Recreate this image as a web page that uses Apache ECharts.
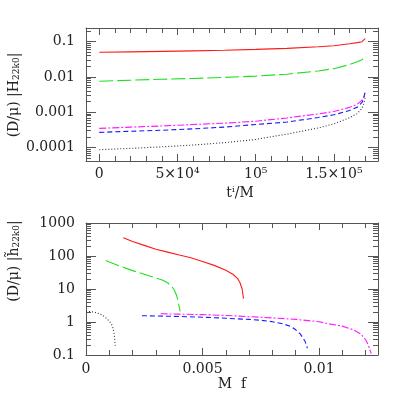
<!DOCTYPE html>
<html><head><meta charset="utf-8">
<script src="https://cdn.jsdelivr.net/npm/echarts@6/dist/echarts.min.js"></script>
<style>html,body{margin:0;padding:0;background:#fff}#c{width:399px;height:399px}</style>
</head><body><div id="c"></div>
<script>
// ---------- top panel data (t^i/M vs amplitude) ----------
const tTop = [0, 20000, 40000, 60000, 80000, 100000, 120000, 140000, 150000, 160000, 165000, 168000, 169000, 170000];
const topRed     = [0.050, 0.0515, 0.053, 0.055, 0.0573, 0.0605, 0.0645, 0.072, 0.077, 0.087, 0.094, 0.100, 0.106, 0.122];
const topGreen   = [0.0076, 0.0081, 0.0086, 0.0091, 0.0097, 0.0106, 0.0120, 0.0148, 0.0172, 0.0225, 0.027, 0.031, 0.034, 0.041];
const topMagenta = [0.00035, 0.00038, 0.00041, 0.00045, 0.00049, 0.00056, 0.00069, 0.00090, 0.00105, 0.00138, 0.0017, 0.0022, 0.0026, 0.0035];
const topBlue    = [0.00027, 0.00029, 0.00031, 0.00034, 0.00038, 0.00045, 0.00053, 0.00071, 0.00085, 0.00112, 0.0014, 0.0019, 0.0024, 0.0040];
const topBlack   = [0.000087, 0.000095, 0.000105, 0.000118, 0.000138, 0.00017, 0.00024, 0.00036, 0.00047, 0.00070, 0.00092, 0.0013, 0.0017, 0.0026];

// ---------- bottom panel data (M f vs |h~|) ----------
const fRed     = [0.0016, 0.002, 0.0025, 0.003, 0.0035, 0.004, 0.0045, 0.005, 0.0055, 0.006, 0.0063, 0.0065, 0.0066, 0.0067, 0.00676];
const botRed   = [360, 275, 210, 160, 131, 107, 88, 68, 52, 37, 28, 21, 16, 10, 5.1];
const fGreen   = [0.00085, 0.001, 0.0015, 0.002, 0.0025, 0.003, 0.0033, 0.0035, 0.0037, 0.0038, 0.0039, 0.00395, 0.004, 0.00404];
const botGreen = [73, 66, 48, 36, 28, 21.5, 18.5, 15.5, 11.5, 9, 6, 4.3, 2.9, 2.1];
const fBlack   = [0, 0.0002, 0.0004, 0.0006, 0.0008, 0.0009, 0.001, 0.0011, 0.00115, 0.0012, 0.00123, 0.00125];
const botBlack = [2.1, 2.05, 1.95, 1.75, 1.45, 1.25, 1.05, 0.85, 0.68, 0.47, 0.32, 0.19];
const fBlue    = [0.0024, 0.003, 0.004, 0.005, 0.006, 0.007, 0.0075, 0.008, 0.0085, 0.0088, 0.009, 0.0092, 0.0094, 0.0095];
const botBlue  = [1.55, 1.52, 1.47, 1.40, 1.30, 1.20, 1.13, 1.02, 0.86, 0.73, 0.58, 0.43, 0.26, 0.16];
const fMagenta = [0.0032, 0.004, 0.005, 0.006, 0.007, 0.008, 0.009, 0.01, 0.0105, 0.011, 0.0115, 0.0118, 0.012, 0.0121, 0.01224];
const botMagenta = [1.78, 1.73, 1.67, 1.58, 1.45, 1.33, 1.20, 1.02, 0.86, 0.75, 0.57, 0.43, 0.29, 0.21, 0.11];

// ---------- ticks ----------
const topXTicks = [0, 50000, 100000, 150000];
const topXLabels = ['0', '5×10⁴', '10⁵', '1.5×10⁵'];
const topXMinor = [10000, 20000, 30000, 40000, 60000, 70000, 80000, 90000, 110000, 120000, 130000, 140000, 160000, 170000];
const topYTicks = [0.0001, 0.001, 0.01, 0.1];
const topYLabels = ['0.0001', '0.001', '0.01', '0.1'];
const topYMinor = [5e-5, 6e-5, 7e-5, 8e-5, 9e-5, 2e-4, 3e-4, 4e-4, 5e-4, 6e-4, 7e-4, 8e-4, 9e-4,
  2e-3, 3e-3, 4e-3, 5e-3, 6e-3, 7e-3, 8e-3, 9e-3, 0.02, 0.03, 0.04, 0.05, 0.06, 0.07, 0.08, 0.09, 0.2];
const botXTicks = [0, 0.005, 0.01];
const botXLabels = ['0', '0.005', '0.01'];
const botXMinor = [0.001, 0.002, 0.003, 0.004, 0.006, 0.007, 0.008, 0.009, 0.011, 0.012];
const botYTicks = [0.1, 1, 10, 100, 1000];
const botYLabels = ['0.1', '1', '10', '100', '1000'];
const botYMinor = [0.2, 0.3, 0.4, 0.5, 0.6, 0.7, 0.8, 0.9, 2, 3, 4, 5, 6, 7, 8, 9,
  20, 30, 40, 50, 60, 70, 80, 90, 200, 300, 400, 500, 600, 700, 800, 900];

const FONT = 'DejaVu Serif';
const AX = '#555';
const TXT = '#222';

function lookup(ticks, labels, log) {
  return function (v) {
    for (let i = 0; i < ticks.length; i++) {
      const d = log ? Math.abs(Math.log10(v) - Math.log10(ticks[i])) : Math.abs(v - ticks[i]);
      if (d < 1e-6 * (log ? 1 : Math.max(1, Math.abs(ticks[i])))) return labels[i];
    }
    return '';
  };
}

function axisSet(dim, grid, type, min, max, majors, minors, labels, majorLen, minorLen, margin) {
  const posA = dim === 'x' ? 'bottom' : 'left';
  const posB = dim === 'x' ? 'top' : 'right';
  const base = (pos, vals, len, withLabel, line) => {
    const a = {
      type: type, gridIndex: grid, position: pos, min: min, max: max,
      axisLine: { show: line, onZero: false, lineStyle: { color: AX, width: 1 } },
      axisTick: { show: true, inside: true, length: len, customValues: vals, lineStyle: { color: AX, width: 1 } },
      splitLine: { show: false },
      axisLabel: { show: false }
    };
    if (type === 'log') a.logBase = 10;
    if (withLabel) {
      a.axisLabel = {
        show: true, customValues: majors, margin: margin,
        formatter: lookup(majors, labels, type === 'log'),
        fontFamily: FONT, fontSize: 14, color: TXT
      };
    }
    return a;
  };
  return [
    base(posA, majors, majorLen, true, true),
    base(posA, minors, minorLen, false, false),
    base(posB, majors, majorLen, false, true),
    base(posB, minors, minorLen, false, false)
  ];
}

const xAxes = [].concat(
  axisSet('x', 0, 'value', -8500, 178200, topXTicks, topXMinor, topXLabels, 7, 5, 6),
  axisSet('x', 1, 'value', 0, 0.01253, botXTicks, botXMinor, botXLabels, 7, 5, 7)
);
const yAxes = [].concat(
  axisSet('y', 0, 'log', 4.17e-5, 0.244, topYTicks, topYMinor, topYLabels, 10, 5, 11),
  axisSet('y', 1, 'log', 0.1, 1000, botYTicks, botYMinor, botYLabels, 10, 5, 11)
);

function pairs(xs, ys) { return xs.map((x, i) => [x, ys[i]]); }
function line(name, xi, yi, xs, ys, color, dash, w) {
  return {
    name: name, type: 'line', xAxisIndex: xi, yAxisIndex: yi,
    data: pairs(xs, ys), showSymbol: false, symbol: 'none', silent: true,
    lineStyle: { color: color, width: w || 1.1, type: dash }, animation: false
  };
}

const RED = '#ff1a1a', GREEN = '#1ee01e', BLUE = '#1a1aff', MAG = '#ff1aff', BLK = '#333';

const series = [
  line('red', 0, 0, tTop, topRed, RED, 'solid'),
  line('green', 0, 0, tTop, topGreen, GREEN, [14, 4]),
  line('magenta', 0, 0, tTop, topMagenta, MAG, [7, 2, 2, 2]),
  line('blue', 0, 0, tTop, topBlue, BLUE, [5, 3]),
  line('black', 0, 0, tTop, topBlack, BLK, [1, 2]),
  line('red', 4, 4, fRed, botRed, RED, 'solid'),
  line('green', 4, 4, fGreen, botGreen, GREEN, [14, 4]),
  line('black', 4, 4, fBlack, botBlack, BLK, [1, 2]),
  line('blue', 4, 4, fBlue, botBlue, BLUE, [5, 3]),
  line('magenta', 4, 4, fMagenta, botMagenta, MAG, [7, 2, 2, 2])
];

const chart = echarts.init(document.getElementById('c'), null, { renderer: 'canvas' });
chart.setOption({
  backgroundColor: '#fff',
  animation: false,
  grid: [
    { left: 86, right: 21, top: 28, height: 133, containLabel: false },
    { left: 86, right: 21, top: 223, height: 132, containLabel: false }
  ],
  xAxis: xAxes,
  yAxis: yAxes,
  series: series,
  graphic: [
    { type: 'text', x: 14, y: 95, rotation: Math.PI / 2,
      style: { text: '(D/μ) |H{s|22k0}|', font: '14px "DejaVu Serif"', fill: TXT, align: 'center', verticalAlign: 'middle',
        rich: { s: { fontSize: 9, fontFamily: FONT, verticalAlign: 'bottom', padding: [6, 0, 0, 0], fill: TXT } } } },
    { type: 'text', x: 14, y: 261, rotation: Math.PI / 2,
      style: { text: '(D/μ) |h\u0303{s|22k0}|', font: '14px "DejaVu Serif"', fill: TXT, align: 'center', verticalAlign: 'middle',
        rich: { s: { fontSize: 9, fontFamily: FONT, verticalAlign: 'bottom', padding: [6, 0, 0, 0], fill: TXT } } } },
    { type: 'text', x: 240, y: 193,
      style: { text: 'tⁱ/M', font: '14px "DejaVu Serif"', fill: TXT, align: 'center', verticalAlign: 'middle' } },
    { type: 'text', x: 232, y: 384,
      style: { text: 'M  f', font: '14px "DejaVu Serif"', fill: TXT, align: 'center', verticalAlign: 'middle' } }
  ]
});
</script></body></html>
